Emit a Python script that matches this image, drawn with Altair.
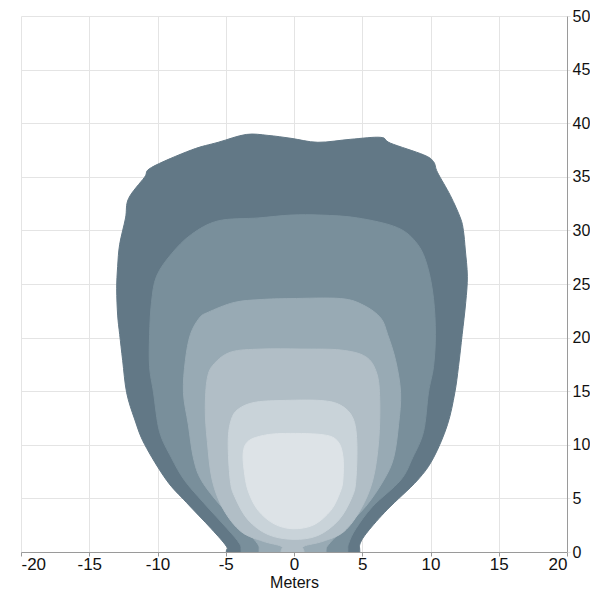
import altair as alt
import pandas as pd

# Contour polygons (meters), outermost (darkest) to innermost (lightest)
l1_x = [-4.96, -4.96, -4.96, -6.06, -7.88, -9.34, -10.95, -11.68, -12.26, -12.55, -12.77, -12.92, -12.99, -12.92, -12.77,
        -12.34, -12.12, -10.95, -10.44, -7.52, -5.55, -3.50, -1.90, -0.22, 1.75, 4.16, 6.35, 7.08, 9.49, 10.22,
        10.51, 11.46, 12.19, 12.41, 12.55, 12.70, 12.58, 12.32, 12.05, 11.78, 11.24, 10.22, 9.05, 6.86, 5.40, 4.85, 4.82, 4.82]
l1_y = [-2, 0, 0.54, 2.17, 4.62, 6.70, 10.05, 12.41, 14.86, 17.84, 20.29, 22.10, 24.55, 26.63, 28.71,
        31.16, 32.97, 34.96, 35.87, 37.50, 38.22, 38.95, 38.86, 38.59, 38.22, 38.50, 38.68, 38.13, 37.05, 36.41,
        35.42, 33.24, 31.16, 29.98, 28.17, 25.72, 23.28, 20.29, 17.30, 14.86, 11.87, 8.79, 6.70, 3.99, 1.90, 0.8, 0, -2]

l2_x = [-3.87, -3.87, -4.01, -4.89, -6.64, -8.03, -8.98, -9.85, -10.29, -10.58, -10.58, -10.44, -10.07, -8.98, -7.52,
        -5.55, -2.63, -0.22, 1.97, 4.67, 7.59, 9.05, 9.78, 10.22, 10.36, 10.22, 9.85, 9.49, 8.69, 7.81, 5.77,
        4.53, 4.01, 3.94, 3.94]
l2_y = [-2, 0, 0.82, 2.17, 4.62, 6.70, 8.79, 11.23, 14.86, 17.30, 20.29, 23.28, 25.72, 27.81, 29.62,
        30.89, 31.16, 31.43, 31.43, 31.16, 30.25, 28.71, 26.63, 23.64, 20.29, 17.30, 14.86, 11.23, 8.79, 6.70, 4.26,
        2.17, 0.82, 0, -2]

l3_x = [-2.55, -2.55, -2.70, -3.87, -5.33, -6.79, -7.37, -7.74, -8.10, -7.96, -7.59, -6.93, -6.28, -4.38, -2.41,
        -0.22, 3.43, 5.11, 6.35, 6.86, 7.45, 7.81, 7.66, 7.30, 6.57, 5.26, 3.65, 2.55, 2.34, 2.34]
l3_y = [-2, 0, 0.82, 2.45, 4.26, 6.70, 8.79, 11.87, 14.86, 17.84, 20.29, 21.83, 22.37, 23.28, 23.55,
        23.64, 23.64, 23.01, 21.83, 20.29, 17.84, 14.86, 11.87, 8.79, 6.70, 4.26, 2.17, 0.72, 0, -2]

l4_x = [-0.95, -0.95, -0.95, -2.26, -3.87, -5.18, -5.99, -6.35, -6.50, -6.35, -5.84, -4.60, -2.41, 0.51, 3.43,
        5.26, 6.06, 6.28, 6.20, 5.77, 4.89, 3.65, 2.12, 0.73, 0.73, 0.73]
l4_y = [-2, 0, 0.54, 1.00, 1.90, 3.99, 6.70, 10.33, 13.32, 16.21, 17.57, 18.66, 18.93, 18.93, 18.84,
        18.21, 16.67, 14.22, 10.33, 6.70, 3.99, 1.90, 1.00, 0.54, 0, -2]

l5_x = [-0.07, -1.90, -3.36, -4.31, -4.67, -4.82, -4.60, -4.09, -2.92, -0.95, 1.97, 3.43, 4.31, 4.60,
        4.53, 4.23, 3.28, 1.75]
l5_y = [1.18, 1.63, 2.99, 5.07, 6.70, 10.33, 12.32, 13.32, 13.95, 14.13, 14.13, 13.68, 12.50, 10.33,
        6.70, 5.07, 2.99, 1.54]

l6_x = [-0.07, -1.46, -2.63, -3.36, -3.65, -3.72, -3.43, -2.55, -0.95, 1.97, 3.14, 3.58, 3.58, 3.36,
        2.70, 1.46]
l6_y = [2.17, 2.63, 3.89, 5.71, 7.61, 9.24, 10.24, 10.78, 11.05, 10.96, 10.42, 8.97, 6.70, 5.53,
        3.89, 2.54]

colors = ["#627886", "#798f9b", "#98aab4", "#b1bec6", "#c9d3d9", "#dde3e7"]
layers_xy = [(l1_x, l1_y), (l2_x, l2_y), (l3_x, l3_y), (l4_x, l4_y), (l5_x, l5_y), (l6_x, l6_y)]

x_ticks = list(range(-20, 21, 5))
y_ticks = list(range(0, 51, 5))

font = "Liberation Sans"

x_enc = alt.X("x:Q", scale=alt.Scale(domain=[-20, 20], nice=False),
              axis=alt.Axis(values=x_ticks, title="Meters", grid=True, gridColor="#e4e4e4",
                            labelExpr="'' + datum.value",
                            domainColor="#9a9a9a", tickColor="#9a9a9a", tickSize=4,
                            labelFont=font, labelFontSize=17, labelColor="#111",
                            titleFont=font, titleFontSize=16, titleFontWeight="normal",
                            titleColor="#111", titlePadding=2, labelPadding=0))
y_enc = alt.Y("y:Q", scale=alt.Scale(domain=[0, 50], nice=False),
              axis=alt.Axis(values=y_ticks, title=None, orient="right", grid=True, gridColor="#e4e4e4",
                            domainColor="#9a9a9a", tickColor="#e4e4e4", tickSize=3,
                            labelFont=font, labelFontSize=16, labelColor="#111", labelPadding=2))

charts = []
for i, ((xs, ys), c) in enumerate(zip(layers_xy, colors)):
    df = pd.DataFrame({"x": xs, "y": ys, "o": list(range(len(xs)))})
    ch = alt.Chart(df).mark_line(fill=c, stroke=c, strokeWidth=1, interpolate="cardinal-closed",
                                 clip=True).encode(x=x_enc, y=y_enc, order="o:Q")
    charts.append(ch)

chart = alt.layer(*charts).properties(
    width=546, height=536,
    autosize=alt.AutoSizeParams(type="none"),
    padding={"left": 13, "top": 8, "right": 23, "bottom": 40},
).configure_view(stroke=None)

chart.save("out.html", embed_options={"renderer": "svg", "actions": False})
